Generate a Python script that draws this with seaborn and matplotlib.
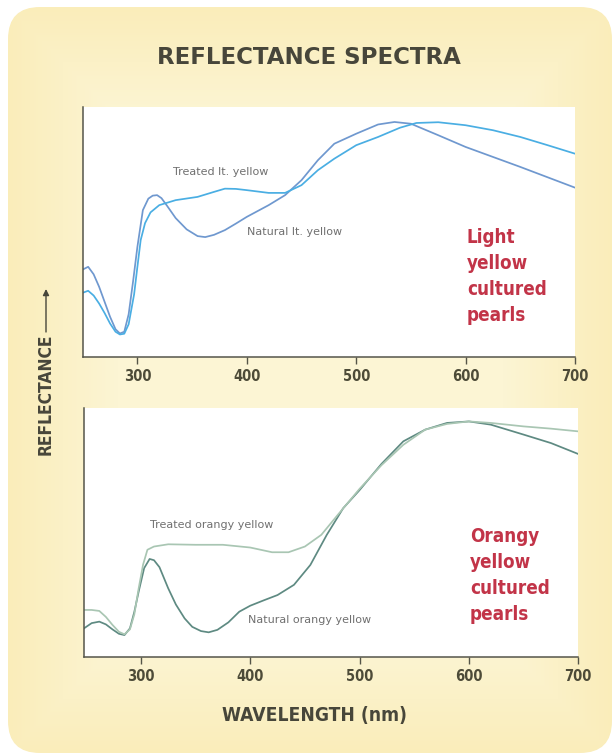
import matplotlib
matplotlib.use("Agg")
import matplotlib.pyplot as plt
import numpy as np
import pandas as pd
import seaborn as sns
from matplotlib.patches import FancyBboxPatch
from matplotlib import font_manager as fm

# ---------------- data ----------------
ticks = [300, 400, 500, 600, 700]

nat_ly_x = [250, 255, 260, 265, 270, 275, 280, 284, 288, 292, 296, 300, 305, 310, 314, 318, 322, 327,
            335, 345, 355, 362, 370, 380, 390, 400, 420, 435, 450, 465, 480, 500, 520, 535, 550,
            575, 600, 650, 700]
nat_ly_y = [34.9, 36.0, 33.0, 28.0, 22.0, 16.0, 11.0, 9.3, 10.0, 17.0, 30.0, 44.0, 58.7, 63.3, 64.5,
            64.7, 63.5, 60.5, 55.5, 51.0, 48.3, 47.9, 48.8, 50.7, 53.3, 56.0, 60.7, 64.7, 70.7, 78.7,
            85.3, 89.3, 93.0, 94.0, 93.3, 88.7, 84.0, 76.0, 67.7]

trt_ly_x = [250, 255, 260, 265, 270, 275, 280, 284, 288, 292, 297, 300, 303, 307, 312, 320, 335, 355,
            370, 380, 390, 400, 420, 435, 450, 465, 480, 500, 520, 540, 555, 575, 600, 625, 650,
            675, 700]
trt_ly_y = [25.6, 26.4, 24.5, 21.3, 17.5, 13.3, 10.0, 8.9, 9.2, 13.0, 25.0, 36.0, 46.7, 53.5, 57.8,
            60.7, 62.7, 64.0, 66.0, 67.3, 67.2, 66.7, 65.6, 65.6, 68.7, 74.7, 79.3, 84.7, 88.0, 91.7,
            93.6, 93.9, 92.7, 90.7, 88.0, 84.7, 81.3]

nat_oy_x = [248, 255, 262, 268, 274, 280, 285, 290, 294, 298, 303, 308, 312, 317, 325, 332, 340,
            347, 355, 362, 370, 380, 390, 400, 412, 425, 440, 455, 470, 485, 500, 520, 540, 560,
            580, 600, 620, 650, 675, 700]
nat_oy_y = [11.4, 13.5, 14.1, 13.0, 11.0, 9.2, 8.7, 11.4, 18.0, 26.2, 35.6, 39.3, 38.8, 36.0, 27.5,
            21.0, 15.4, 12.0, 10.3, 9.8, 10.8, 13.8, 18.1, 20.5, 22.6, 24.8, 28.9, 36.9, 49.0, 59.7,
            67.0, 77.5, 86.6, 91.3, 94.0, 94.6, 93.3, 89.3, 85.9, 81.5]

trt_oy_x = [248, 255, 262, 268, 274, 280, 285, 290, 294, 298, 302, 306, 312, 325, 350, 375, 400,
            420, 435, 450, 465, 480, 500, 520, 540, 560, 580, 600, 620, 650, 675, 700]
trt_oy_y = [18.8, 18.8, 18.4, 16.0, 12.8, 10.0, 9.0, 11.0, 17.0, 27.5, 37.0, 43.0, 44.3, 45.2, 45.0,
            45.0, 43.9, 42.0, 42.0, 44.3, 49.0, 57.0, 67.5, 77.0, 85.2, 91.3, 93.6, 94.6, 94.0,
            92.6, 91.7, 90.6]

top_names = ["Natural lt. yellow", "Treated lt. yellow"]
bot_names = ["Natural orangy yellow", "Treated orangy yellow"]

top_df = pd.concat([
    pd.DataFrame({"wavelength": nat_ly_x, "reflectance": nat_ly_y, "sample": top_names[0]}),
    pd.DataFrame({"wavelength": trt_ly_x, "reflectance": trt_ly_y, "sample": top_names[1]}),
])
bot_df = pd.concat([
    pd.DataFrame({"wavelength": nat_oy_x, "reflectance": nat_oy_y, "sample": bot_names[0]}),
    pd.DataFrame({"wavelength": trt_oy_x, "reflectance": trt_oy_y, "sample": bot_names[1]}),
])

# ---------------- style ----------------
sns.set_theme(style="white")
plt.rcParams["font.family"] = ["DejaVu Sans"]

cond = [f for f in fm.fontManager.ttflist
        if f.name == "DejaVu Sans" and f.stretch == "condensed"
        and f.weight in (700, "bold") and f.style == "normal"]
names = {f.name for f in fm.fontManager.ttflist}
if cond:
    def NFP(size):
        return fm.FontProperties(fname=cond[0].fname, size=size)
elif "Roboto" in names:
    def NFP(size):
        return fm.FontProperties(family="Roboto", weight="bold", size=size)
else:
    def NFP(size):
        return fm.FontProperties(family="DejaVu Sans", weight="bold", size=size)

W, H = 613, 755
fig = plt.figure(figsize=(W / 100, H / 100), dpi=100)
fig.patch.set_facecolor("white")

def fx(px):
    return px / W

def fy(py):
    return 1 - py / H

# card background with a soft edge-to-centre gradient
bg = fig.add_axes([0, 0, 1, 1], zorder=-10)
bg.axis("off")
card = FancyBboxPatch((8, 7), 604, 746, boxstyle="round,pad=0,rounding_size=32",
                      facecolor="none", edgecolor="none", zorder=-6)
bg.add_patch(card)
yy, xx = np.mgrid[0:H, 0:W]
d = np.minimum.reduce([xx - 8, yy - 7, 612 - xx, 753 - yy]).astype(float)
t = np.clip(d / 110.0, 0, 1)[..., None]
edge = np.array([250, 237, 186]) / 255.0
centre = np.array([252, 245, 212]) / 255.0
img = edge * (1 - t) + centre * t
im = bg.imshow(img, extent=(0, W, H, 0), zorder=-5, interpolation="bilinear")
im.set_clip_path(card)
bg.set_xlim(0, W)
bg.set_ylim(H, 0)

TXT = "#47463a"
TICKC = "#4d4b38"
RED = "#c23448"

def style_axes(ax, xlim):
    ax.set_facecolor("white")
    ax.set_xlim(*xlim)
    ax.set_ylim(0, 100)
    ax.set_yticks([])
    ax.set_xticks(ticks)
    ax.set_xticklabels([str(t) for t in ticks], fontproperties=NFP(10.5), color=TICKC)
    ax.tick_params(axis="x", direction="out", length=5, width=1, color="#555548",
                   pad=4, bottom=True)
    for s in ["top", "right"]:
        ax.spines[s].set_visible(False)
    for s in ["left", "bottom"]:
        ax.spines[s].set_color("#55554a")
        ax.spines[s].set_linewidth(1.1)
    ax.set_xlabel("")
    ax.set_ylabel("")
    if ax.get_legend() is not None:
        ax.get_legend().remove()

# top panel
ax1 = fig.add_axes([fx(82.7), fy(356.7), fx(575 - 82.7), (356.7 - 107) / H])
sns.lineplot(data=top_df, x="wavelength", y="reflectance", hue="sample", sort=True,
             palette={top_names[0]: "#6f98cf", top_names[1]: "#4aaee3"},
             linewidth=1.25, ax=ax1, estimator=None)
style_axes(ax1, (250, 700))
ax1.text(332.7, 74, "Treated lt. yellow", fontsize=8, color="#707070", va="center", ha="left")
ax1.text(400.6, 50, "Natural lt. yellow", fontsize=8, color="#707070", va="center", ha="left")

# bottom panel
ax2 = fig.add_axes([fx(84), fy(656.7), fx(578.3 - 84), (656.7 - 408) / H])
sns.lineplot(data=bot_df, x="wavelength", y="reflectance", hue="sample", sort=True,
             palette={bot_names[0]: "#5e8a82", bot_names[1]: "#a9c6b3"},
             linewidth=1.25, ax=ax2, estimator=None)
style_axes(ax2, (248, 700))
ax2.text(308.3, 53, "Treated orangy yellow", fontsize=8, color="#707070", va="center", ha="left")
ax2.text(398, 14.8, "Natural orangy yellow", fontsize=8, color="#707070", va="center", ha="left")

# red panel labels
fig.text(fx(467), fy(228), "Light\nyellow\ncultured\npearls", fontproperties=NFP(13.5),
         color=RED, va="top", ha="left", linespacing=1.47)
fig.text(fx(470), fy(527), "Orangy\nyellow\ncultured\npearls", fontproperties=NFP(13.5),
         color=RED, va="top", ha="left", linespacing=1.47)

# title and axis labels
fig.text(fx(309), fy(57), "REFLECTANCE SPECTRA", fontfamily="DejaVu Sans", fontweight="bold",
         fontsize=16.5, color=TXT, ha="center", va="center")
fig.text(fx(315), fy(715), "WAVELENGTH (nm)", fontproperties=NFP(13.8),
         color=TXT, ha="center", va="center")
fig.text(fx(46), fy(394), "REFLECTANCE", fontproperties=NFP(12.5),
         color=TXT, ha="center", va="center", rotation=90)
bg.annotate("", xy=(46, 289), xytext=(46, 332),
            arrowprops=dict(arrowstyle="-|>", color=TXT, lw=1.0,
                            mutation_scale=9, shrinkA=0, shrinkB=0))

fig.savefig("out.png", dpi=100)
